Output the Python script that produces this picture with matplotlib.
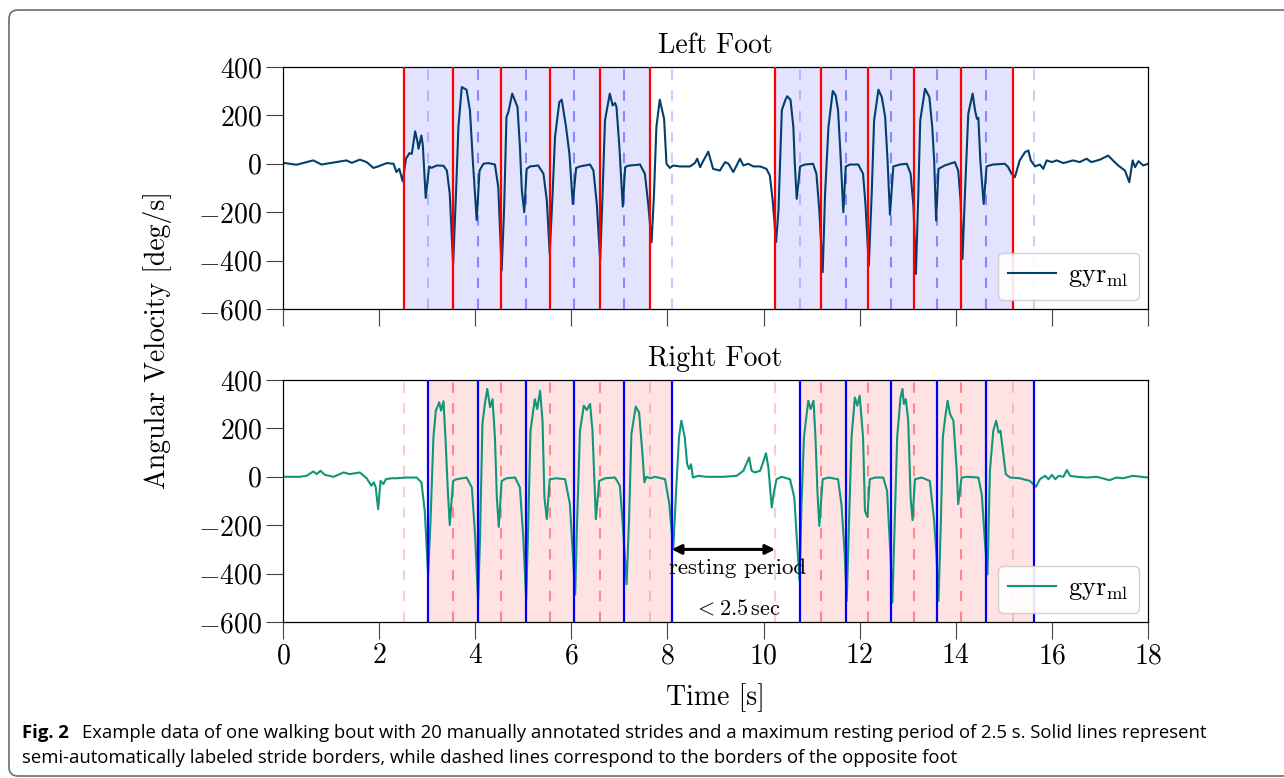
import matplotlib
matplotlib.use('Agg')
import matplotlib.pyplot as plt
from matplotlib.patches import FancyBboxPatch
from matplotlib.transforms import IdentityTransform

plt.rcParams['font.family'] = 'serif'
plt.rcParams['font.serif'] = ['cmr10']
plt.rcParams['mathtext.fontset'] = 'cm'
plt.rcParams['axes.formatter.use_mathtext'] = True

# gyroscope (medio-lateral axis) of the left foot, deg/s
left_time = [0.0, 0.28, 0.63, 0.80, 0.98, 1.32, 1.43, 1.60, 1.74, 1.88, 1.98, 2.16, 2.30, 2.36, 2.42, 2.49,
             2.56, 2.63, 2.68, 2.75, 2.80, 2.82, 2.88, 2.91, 2.97, 3.04, 3.09, 3.20, 3.34, 3.41, 3.47, 3.54,
             3.60, 3.65, 3.72, 3.82, 3.89, 3.95, 4.03, 4.09, 4.17, 4.27, 4.41, 4.48, 4.55, 4.60, 4.65, 4.69,
             4.77, 4.88, 4.93, 4.97, 5.02, 5.07, 5.14, 5.31, 5.42, 5.49, 5.55, 5.61, 5.66, 5.75, 5.80, 5.89,
             5.96, 6.03, 6.10, 6.18, 6.39, 6.46, 6.53, 6.60, 6.65, 6.70, 6.80, 6.86, 6.91, 6.94, 7.00, 7.07,
             7.12, 7.18, 7.43, 7.53, 7.60, 7.67, 7.72, 7.77, 7.84, 7.93, 7.98, 8.05, 8.12, 8.26, 8.47, 8.57,
             8.62, 8.68, 8.75, 8.85, 8.95, 9.09, 9.20, 9.27, 9.37, 9.51, 9.58, 9.68, 9.79, 9.93, 10.06, 10.13,
             10.19, 10.26, 10.31, 10.38, 10.45, 10.49, 10.56, 10.62, 10.65, 10.69, 10.76, 10.86, 11.03, 11.10,
             11.16, 11.23, 11.28, 11.35, 11.44, 11.50, 11.55, 11.60, 11.66, 11.71, 11.80, 11.97, 12.07, 12.12,
             12.19, 12.25, 12.30, 12.39, 12.46, 12.53, 12.58, 12.63, 12.70, 12.84, 12.98, 13.06, 13.12, 13.17,
             13.22, 13.26, 13.36, 13.45, 13.51, 13.55, 13.59, 13.64, 13.77, 13.98, 14.05, 14.10, 14.14, 14.19,
             14.26, 14.35, 14.40, 14.44, 14.47, 14.51, 14.58, 14.64, 14.77, 15.02, 15.09, 15.16, 15.23, 15.33,
             15.44, 15.51, 15.56, 15.65, 15.75, 15.82, 15.89, 16.00, 16.10, 16.24, 16.44, 16.58, 16.72, 16.82,
             17.00, 17.17, 17.27, 17.38, 17.52, 17.61, 17.68, 17.73, 17.80, 17.90, 18.0]
left_gyr = [4, -4, 14, -3, 3, 14, 4, 17, 7, -17, -11, 3, 0, -34, -21, -72,
            21, 44, 41, 134, 90, 62, 117, 76, -141, -11, -17, -7, -8, -28, -124, -417,
            -124, 152, 317, 306, 221, 14, -232, -28, 0, 3, -3, -97, -441, -193, 193, 214,
            290, 234, 69, -110, -200, -21, -11, -7, -41, -152, -370, -124, 110, 255, 265, 152,
            41, -166, -17, -11, -3, -28, -166, -400, -124, 179, 290, 241, 251, 234, 69, -177,
            -14, -8, -3, -41, -166, -324, -124, 152, 265, 186, 0, -17, -7, -11, -11, 3,
            21, -14, 14, 50, -21, -28, 7, 0, -34, 21, -7, 0, -11, -11, -21, -48,
            -152, -324, -193, 221, 262, 279, 265, 152, 0, -145, -11, -3, 0, -41,
            -193, -448, -124, 152, 301, 283, 221, 41, -200, -11, -3, -3, -41, -166,
            -421, -124, 179, 306, 276, 193, 14, -210, -11, -3, 0, -41, -179, -455,
            -124, 179, 310, 276, 152, 14, -234, -21, -7, 7, -28, -152, -393, -124,
            207, 290, 221, 186, 190, 14, -166, -11, -3, 0, -14, -41, -55, 14,
            48, 55, 14, -11, -3, -21, 14, 7, 14, 3, 14, 7, 21, 7,
            17, 34, 14, -7, -28, -76, 14, -14, 11, -7, 0]

# gyroscope (medio-lateral axis) of the right foot, deg/s
right_time = [0.0, 0.35, 0.49, 0.63, 0.70, 0.78, 0.87, 1.05, 1.26, 1.39, 1.60, 1.74, 1.84, 1.89, 1.93, 1.98,
              2.03, 2.09, 2.14, 2.26, 2.36, 2.57, 2.78, 2.88, 2.95, 3.02, 3.07, 3.13, 3.18, 3.25, 3.29, 3.34,
              3.38, 3.43, 3.47, 3.54, 3.61, 3.82, 3.93, 4.00, 4.06, 4.10, 4.15, 4.20, 4.25, 4.31, 4.36, 4.41,
              4.45, 4.49, 4.55, 4.65, 4.83, 4.93, 5.00, 5.06, 5.10, 5.15, 5.24, 5.29, 5.35, 5.40, 5.44, 5.49,
              5.55, 5.69, 5.87, 5.97, 6.08, 6.12, 6.18, 6.26, 6.32, 6.39, 6.44, 6.48, 6.51, 6.58, 6.70, 6.91,
              7.01, 7.08, 7.15, 7.20, 7.25, 7.34, 7.41, 7.48, 7.52, 7.56, 7.64, 7.74, 7.95, 8.04, 8.12, 8.18,
              8.24, 8.29, 8.36, 8.41, 8.45, 8.49, 8.53, 8.64, 8.81, 9.16, 9.44, 9.58, 9.70, 9.75, 9.82, 9.93,
              10.00, 10.05, 10.10, 10.17, 10.22, 10.27, 10.38, 10.55, 10.64, 10.69, 10.75, 10.79, 10.84, 10.93,
              10.98, 11.04, 11.08, 11.12, 11.16, 11.23, 11.35, 11.55, 11.62, 11.69, 11.73, 11.78, 11.83, 11.90,
              11.95, 12.00, 12.07, 12.11, 12.16, 12.21, 12.32, 12.49, 12.57, 12.64, 12.68, 12.73, 12.78, 12.85,
              12.89, 12.92, 12.96, 13.01, 13.06, 13.10, 13.15, 13.29, 13.46, 13.55, 13.60, 13.64, 13.69, 13.73,
              13.78, 13.83, 13.88, 13.95, 14.02, 14.05, 14.12, 14.23, 14.47, 14.54, 14.61, 14.66, 14.71, 14.78,
              14.84, 14.89, 14.93, 14.99, 15.04, 15.13, 15.33, 15.54, 15.67, 15.75, 15.86, 15.93, 16.00, 16.07,
              16.14, 16.24, 16.31, 16.38, 16.52, 16.72, 16.93, 17.20, 17.34, 17.48, 17.68, 18.0]
right_gyr = [0, 0, 4, 22, 11, 25, 8, 0, 18, 11, 18, -6, -37, -23, -44, -134,
             -17, -30, -10, -6, -6, -3, -3, -23, -141, -403, -182, 163, 273, 308, 273, 312,
             163, -58, -199, -17, -10, -3, -44, -251, -513, -251, 218, 301, 363, 287, 321, 163,
             -86, -207, -17, -6, -3, -44, -251, -506, -223, 190, 321, 280, 356, 232, -86, -175,
             -10, -6, -10, -113, -486, -182, 190, 294, 276, 301, 190, -17, -175, -17, -6, -3,
             -37, -223, -444, -182, 177, 290, 266, 94, -23, 0, -6, 0, -10, -113, -300, -60,
             163, 232, 163, 52, 32, 52, -3, 4, 0, 0, 4, 25, 80, 25, 18, 25,
             66, 97, 39, -127, -58, -10, 0, -10, -86, -251, -430, -113, 163, 314,
             280, 314, 163, -58, -203, -10, -3, -10, -113, -320, -513, -182, 163, 328,
             294, 335, 163, -141, -166, -10, -3, -3, -58, -320, -520, -182, 163, 328,
             363, 301, 321, 232, -86, -179, -10, -3, -17, -182, -334, -513, -182, 163,
             246, 314, 259, 232, 25, -113, -3, 0, -3, -72, -279, -403, 25, 190,
             232, 183, 190, 94, 11, -3, -6, -17, -41, -10, 4, -10, 8, -10,
             4, 0, 28, 4, 0, -3, 0, -14, -3, -6, 4, -3]

# annotated stride borders, s
left_strides = [2.52, 3.54, 4.54, 5.56, 6.60, 7.64, 10.24, 11.19, 12.17, 13.13, 14.11, 15.19]
right_strides = [3.02, 4.06, 5.05, 6.05, 7.10, 8.09, 10.76, 11.71, 12.66, 13.61, 14.63, 15.63]


def draw_foot(ax, time, gyr, own, other, line_color, own_color, shade_color, other_color, title):
    for bout in (own[:6], own[6:]):
        ax.axvspan(bout[0], bout[-1], color=shade_color, alpha=0.11, lw=0, zorder=0)
    for bout in (other[:6], other[6:]):
        for i, x in enumerate(bout):
            a = 0.2 if i in (0, len(bout) - 1) else 0.4
            ax.axvline(x, color=other_color, lw=1.5, ls=(0, (5, 5)), alpha=a, zorder=1)
    ax.plot(time, gyr, color=line_color, lw=1.5, label=r'$\mathrm{gyr}_\mathrm{ml}$', zorder=2)
    for x in own:
        ax.axvline(x, color=own_color, lw=1.6, zorder=3)
    ax.set_title(title, fontsize=20, pad=10)
    ax.set_ylim(-600, 400)
    ax.set_yticks(range(-600, 401, 200))
    ax.set_xlim(0, 18)
    ax.set_xticks(range(0, 19, 2))
    ax.tick_params(direction='out', length=12, width=0.8, color='#444444', labelsize=20, pad=3)
    for s in ax.spines.values():
        s.set_linewidth(0.9)
    leg = ax.legend(loc='lower right', fontsize=19, handlelength=1.8, handletextpad=0.45,
                    fancybox=True, edgecolor='#cccccc', framealpha=0.9, borderaxespad=0.35)
    leg.get_frame().set_linewidth(1.0)


fig, (ax1, ax2) = plt.subplots(2, 1, figsize=(12.84, 7.78), dpi=100, sharex=True)
fig.subplots_adjust(left=0.2204, right=0.8941, top=0.9139, bottom=0.2005, hspace=0.2934)

draw_foot(ax1, left_time, left_gyr, left_strides, right_strides,
          '#023f6a', 'red', 'blue', 'blue', 'Left Foot')
draw_foot(ax2, right_time, right_gyr, right_strides, left_strides,
          '#11967a', 'blue', 'red', 'red', 'Right Foot')
ax1.tick_params(labelbottom=False)

# resting period between the two walking bouts
ax2.annotate('', xy=(right_strides[5], -300), xytext=(left_strides[6], -300),
             arrowprops=dict(arrowstyle='<|-|>', color='black', lw=2.2,
                             mutation_scale=14, shrinkA=0, shrinkB=0), zorder=5)
ax2.text(9.45, -377, 'resting period', fontsize=16.5, ha='center', va='center', zorder=5)
ax2.text(9.45, -546, r'$<2.5\,\mathrm{sec}$', fontsize=16, ha='center', va='center', zorder=5)

ax2.set_xlabel('Time [s]', fontsize=20, labelpad=10)
fig.text(158 / 1284, 1 - 340 / 778, 'Angular Velocity [deg/s]', fontsize=20,
         rotation=90, ha='center', va='center')

# caption and frame
cap_font = dict(family='Open Sans', fontsize=13.3, va='center')
fig.text(22 / 1284, 1 - 733 / 778, 'Fig. 2', fontweight='bold', **cap_font)
fig.text(82 / 1284, 1 - 733 / 778,
         'Example data of one walking bout with 20 manually annotated strides and a maximum '
         'resting period of 2.5 s. Solid lines represent', **cap_font)
fig.text(22 / 1284, 1 - 758 / 778,
         'semi-automatically labeled stride borders, while dashed lines correspond to the '
         'borders of the opposite foot', **cap_font)
frame = FancyBboxPatch((9, 2), 1300, 766, boxstyle='round,pad=0,rounding_size=9',
                       transform=IdentityTransform(), fill=False, edgecolor='#777777', lw=1.3)
fig.patches.append(frame)

fig.savefig('out.png', dpi=100)
